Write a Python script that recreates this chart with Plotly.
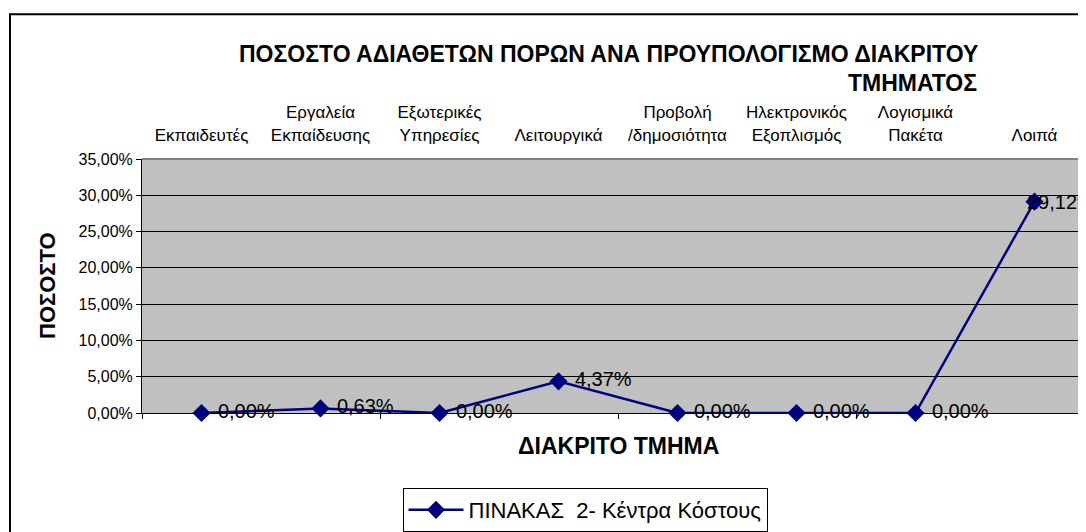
import plotly.graph_objects as go

categories = ["Εκπαιδευτές", "Εργαλεία<br>Εκπαίδευσης", "Εξωτερικές<br>Υπηρεσίες", "Λειτουργικά",
              "Προβολή<br>/δημοσιότητα", "Ηλεκτρονικός<br>Εξοπλισμός", "Λογισμικά<br>Πακέτα", "Λοιπά"]
values = [0.0, 0.0063, 0.0, 0.0437, 0.0, 0.0, 0.0, 0.2912]
series_name = "ΠΙΝΑΚΑΣ  2- Κέντρα Κόστους"
title_lines = ["ΠΟΣΟΣΤΟ ΑΔΙΑΘΕΤΩΝ ΠΟΡΩΝ ΑΝΑ ΠΡΟΥΠΟΛΟΓΙΣΜΟ ΔΙΑΚΡΙΤΟΥ", "ΤΜΗΜΑΤΟΣ"]
x_title = "ΔΙΑΚΡΙΤΟ ΤΜΗΜΑ"
y_title = "ΠΟΣΟΣΤΟ"
y_ticks = [0.0, 0.05, 0.10, 0.15, 0.20, 0.25, 0.30, 0.35]

FONT = "Arial, 'Liberation Sans', sans-serif"
OFF = 8  # page body margin
W, H = 1086 - OFF, 532 - OFF
L, R, T, B = 142 - OFF, 0, 159 - OFF, 532 - 415
pw, ph = W - L - R, H - T - B


def px(x):
    return (x - OFF - L) / pw


def py(y):
    return (H - B - (y - OFF)) / ph


idx = list(range(len(categories)))
labels = [f"{v*100:.2f}".replace(".", ",") + "%" for v in values]
last = len(values) - 1
point_text = ["\u2004" + s for s in labels[:last]] + [""]

fig = go.Figure()
fig.add_trace(go.Scatter(
    x=idx, y=values, mode="lines+markers+text", name=series_name,
    text=point_text, textposition="middle right", cliponaxis=False,
    textfont=dict(family=FONT, size=20, color="black"),
    line=dict(color="#000080", width=2.5),
    marker=dict(symbol="diamond", size=14, color="#000080"),
))
# invisible trace to drive the top category axis
fig.add_trace(go.Scatter(x=idx, y=values, xaxis="x2", mode="markers",
                         marker=dict(opacity=0), showlegend=False, hoverinfo="skip"))

xr = [-0.5, -0.5 + pw / 119.0]

fig.update_layout(
    width=W, height=H,
    margin=dict(l=L, r=R, t=T, b=B, pad=0),
    paper_bgcolor="white", plot_bgcolor="#C0C0C0",
    separators=",.",
    font=dict(family=FONT, color="black"),
    showlegend=True,
    legend=dict(orientation="h", x=px(585), y=py(491), xanchor="center", yanchor="top",
                bordercolor="black", borderwidth=1, bgcolor="white", itemwidth=55,
                font=dict(family=FONT, size=22, color="black")),
    xaxis=dict(range=xr, tickvals=[-0.5, 1.5, 3.5, 5.5, 7.5], showticklabels=False,
               ticks="outside", ticklen=5, tickcolor="black", showline=True,
               linecolor="black", linewidth=1, showgrid=False, zeroline=False),
    xaxis2=dict(range=xr, overlaying="x", side="top", tickvals=idx, ticktext=categories,
                ticks="", showgrid=False, showline=False, zeroline=False,
                ticklabelstandoff=14,
                tickfont=dict(family=FONT, size=17, color="black")),
    yaxis=dict(range=[0, 0.35], tickvals=y_ticks, tickformat=".2%",
               ticks="outside", ticklen=5, tickcolor="black",
               showgrid=True, gridcolor="black", gridwidth=1,
               showline=True, linecolor="black", linewidth=1, zeroline=False,
               tickfont=dict(family=FONT, size=16, color="black")),
    shapes=[
        dict(type="line", xref="paper", yref="paper", x0=0, x1=1, y0=1, y1=1,
             line=dict(color="#808080", width=2), layer="above"),
        dict(type="rect", xref="paper", yref="paper", x0=px(10), x1=1.05,
             y0=py(560), y1=py(13), line=dict(color="black", width=2), layer="above"),
    ],
    annotations=[
        dict(text=labels[last], x=idx[last], y=values[last], xref="x", yref="y",
             xanchor="left", yanchor="middle", xshift=-10, showarrow=False,
             font=dict(family=FONT, size=20, color="black")),
        dict(text=f"<b>{title_lines[0]}</b>", xref="paper", yref="paper", x=px(980), y=py(53),
             xanchor="right", yanchor="middle", showarrow=False,
             font=dict(family=FONT, size=23, color="black")),
        dict(text=f"<b>{title_lines[1]}</b>", xref="paper", yref="paper", x=px(979), y=py(82),
             xanchor="right", yanchor="middle", showarrow=False,
             font=dict(family=FONT, size=23, color="black")),
        dict(text=f"<b>{x_title}</b>", xref="paper", yref="paper", x=px(618), y=py(448),
             xanchor="center", yanchor="middle", showarrow=False,
             font=dict(family=FONT, size=23, color="black")),
        dict(text=f"<b>{y_title}</b>", xref="paper", yref="paper", x=px(47), y=0.5,
             xanchor="center", yanchor="middle", showarrow=False, textangle=-90,
             font=dict(family=FONT, size=22, color="black")),
    ],
)

fig.write_html("out.html")
